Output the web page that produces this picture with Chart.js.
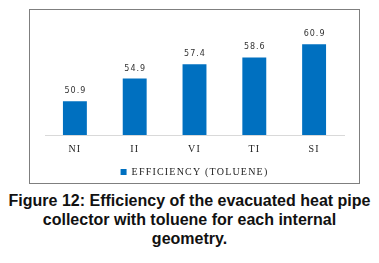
<!DOCTYPE html>
<html>
<head>
<meta charset="utf-8">
<script src="https://cdn.jsdelivr.net/npm/chart.js@4/dist/chart.umd.min.js"></script>
<style>
  html, body { margin: 0; padding: 0; background: #fff; }
  body { width: 379px; height: 263px; position: relative; overflow: hidden; }
  #box {
    position: absolute; left: 29px; top: 9px; width: 329px; height: 173px;
    border: 1px solid #7f7f7f;
  }
  #chart { position: absolute; left: 30px; top: 10px; }
  #caption {
    position: absolute; left: 0; top: 191px; width: 379px;
    text-align: center; font: bold 16px "Liberation Sans", Arial, sans-serif;
    line-height: 19px; color: #111;
  }
</style>
</head>
<body>
<div id="box"></div>
<canvas id="chart" width="329" height="177"></canvas>
<div id="caption">Figure 12: Efficiency of the evacuated heat pipe<br>collector with toluene for each internal<br>geometry.</div>
<script>
document.addEventListener("DOMContentLoaded", () => {
    // Chart data
    const categories = ["NI", "II", "VI", "TI", "SI"];
    const efficiency = [50.9, 54.9, 57.4, 58.6, 60.9];
    const seriesLabel = "EFFICIENCY (TOLUENE)";

    // The original text is loosely spaced
    const spacing = {
        id: "spacing",
        beforeUpdate(chart) { chart.ctx.letterSpacing = "1.2px"; },
        beforeDraw(chart) { chart.ctx.letterSpacing = "1.2px"; }
    };

    // Draw the value above each bar
    const valueLabels = {
        id: "valueLabels",
        afterDatasetsDraw(chart) {
            const ctx = chart.ctx;
            ctx.save();
            ctx.letterSpacing = "1px";
            ctx.font = "8px 'DejaVu Sans', sans-serif";
            ctx.fillStyle = "#333";
            ctx.textAlign = "center";
            ctx.textBaseline = "alphabetic";
            chart.getDatasetMeta(0).data.forEach((bar, i) => {
                ctx.fillText(efficiency[i].toFixed(1), bar.x + 0.5, bar.y - 8);
            });
            ctx.restore();
        }
    };

    const ctx = document.getElementById("chart").getContext("2d");
    new Chart(ctx, {
        type: "bar",
        data: {
            labels: categories,
            datasets: [
                {
                    label: seriesLabel,
                    data: efficiency,
                    backgroundColor: "#0070c0",
                    categoryPercentage: 0.8,
                    barPercentage: 0.5,
                },
            ],
        },
        options: {
            responsive: false,
            animation: false,
            layout: { padding: { left: 15, right: 15, top: 11, bottom: 0 } },
            scales: {
                x: {
                    grid: { display: false },
                    border: { display: true, color: "#d9d9d9" },
                    ticks: {
                        color: "#222",
                        font: { family: "'Liberation Serif', serif", size: 10 },
                        padding: 0,
                    },
                    afterFit(scale) { scale.height += 6; },
                },
                y: {
                    display: false,
                    min: 45,
                    max: 65,
                },
            },
            plugins: {
                tooltip: { enabled: false },
                legend: {
                    position: "bottom",
                    labels: {
                        boxWidth: 6,
                        boxHeight: 6,
                        padding: 6,
                        color: "#222",
                        font: { family: "'Liberation Serif', serif", size: 10 },
                    },
                },
            },
        },
        plugins: [spacing, valueLabels],
    });
});
</script>
</body>
</html>
